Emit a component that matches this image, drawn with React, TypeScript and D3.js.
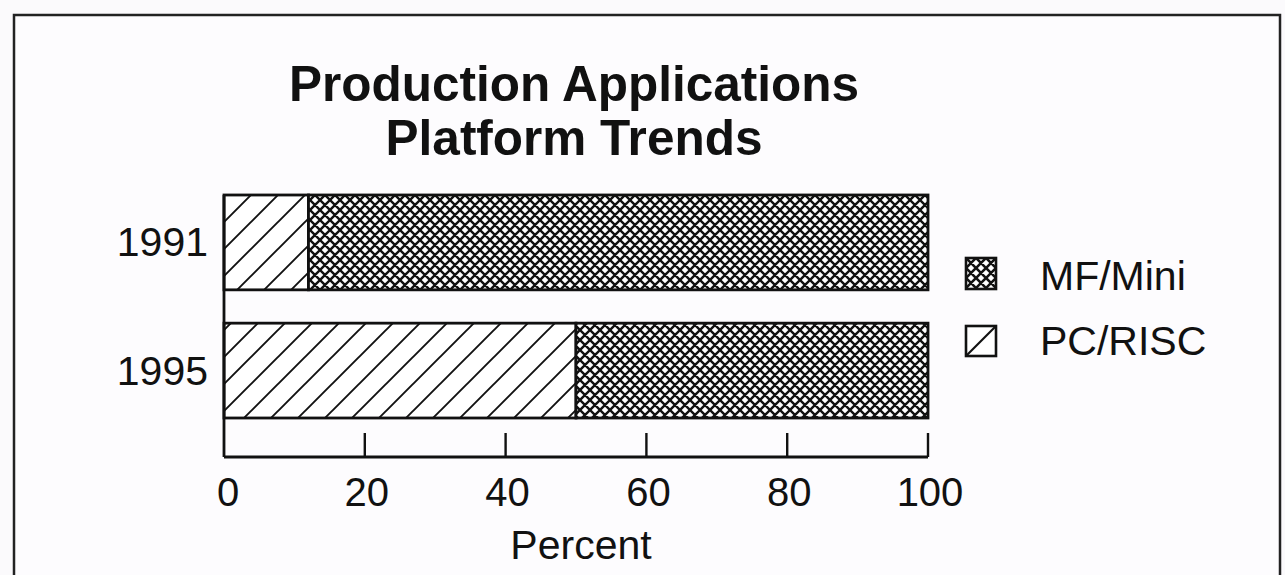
import React from "react";
import * as d3 from "d3";

const titleLines = ["Production Applications", "Platform Trends"];
const years = ["1991", "1995"];
const pcRisc = [12, 50];
const mfMini = [88, 50];
const seriesKeys = ["pc", "mf"];
const legendLabels = ["MF/Mini", "PC/RISC"];
const tickValues = [0, 20, 40, 60, 80, 100];
const axisLabel = "Percent";

const W = 1285;
const H = 575;
const FONT = "'Liberation Sans', Arial, Helvetica, sans-serif";

export default function App() {
  const x = d3.scaleLinear().domain([0, 100]).range([224, 928]);
  const y = d3.scaleBand<string>().domain(years).range([195, 418]).paddingInner(0.26).paddingOuter(0);

  const rows = years.map((yr, i) => ({ year: yr, pc: pcRisc[i], mf: mfMini[i] }));
  const stack = d3.stack<any>().keys(seriesKeys);
  const stacked = stack(rows);
  const fills: Record<string, string> = { pc: "url(#hatch)", mf: "url(#cross)" };

  const axisY = 457;
  const tickTop = 433;
  const crossPath = "M-1,1 L1,-1 M0,10 L10,0 M9,11 L11,9 M-1,9 L1,11 M0,0 L10,10 M9,-1 L11,1";

  return (
    <svg
      width={W}
      height={H}
      style={{ position: "fixed", left: 0, top: 0, display: "block" }}
      fontFamily={FONT}
    >
      <defs>
        <pattern id="cross" patternUnits="userSpaceOnUse" width={10} height={10}>
          <rect width={10} height={10} fill="#fff" />
          <path d={crossPath} stroke="#111" strokeWidth={2.4} />
        </pattern>
        <pattern id="crossLegend" patternUnits="userSpaceOnUse" width={10} height={10} x={966} y={258}>
          <rect width={10} height={10} fill="#fff" />
          <path d={crossPath} stroke="#111" strokeWidth={2.6} />
        </pattern>
        <pattern id="hatch" patternUnits="userSpaceOnUse" width={27} height={27} x={224} y={195}>
          <rect width={27} height={27} fill="#fff" />
          <path d="M-2,2 L2,-2 M0,27 L27,0 M25,29 L29,25" stroke="#111" strokeWidth={1.9} />
        </pattern>
      </defs>

      <rect x={0} y={0} width={W} height={H} fill="#fbfafc" />
      <rect x={14} y={15} width={1266} height={H} fill="#fdfcfe" stroke="#222" strokeWidth={2.5} />

      {titleLines.map((t, i) => (
        <text
          key={t}
          x={574}
          y={101 + i * 54}
          textAnchor="middle"
          fontSize={49.5}
          fontWeight="bold"
          fill="#111"
        >
          {t}
        </text>
      ))}

      {stacked.map((s) =>
        s.map((d: any, i: number) => (
          <rect
            key={s.key + i}
            x={x(d[0])}
            y={y(years[i])}
            width={x(d[1]) - x(d[0])}
            height={y.bandwidth()}
            fill={fills[s.key]}
            stroke="#111"
            strokeWidth={2.8}
          />
        ))
      )}

      <line x1={x(0)} x2={x(0)} y1={195} y2={axisY} stroke="#111" strokeWidth={2.8} />
      <line x1={x(0)} x2={x(100)} y1={axisY} y2={axisY} stroke="#111" strokeWidth={2.8} />
      {tickValues
        .filter((v) => v > 0)
        .map((v) => (
          <line key={v} x1={x(v)} x2={x(v)} y1={tickTop} y2={axisY} stroke="#111" strokeWidth={2.4} />
        ))}
      {tickValues.map((v) => (
        <text key={v} x={x(v) + (v === 0 ? 4 : 2)} y={506} textAnchor="middle" fontSize={40} fill="#111">
          {v}
        </text>
      ))}
      <text x={581} y={559} textAnchor="middle" fontSize={41} fill="#111">
        {axisLabel}
      </text>

      {years.map((yr) => (
        <text
          key={yr}
          x={208}
          y={(y(yr) as number) + y.bandwidth() / 2 + 14}
          textAnchor="end"
          fontSize={41}
          fill="#111"
        >
          {yr}
        </text>
      ))}

      {/* legend */}
      <rect x={966} y={258} width={30} height={31} fill="url(#crossLegend)" stroke="#111" strokeWidth={2.6} />
      <text x={1040} y={290} fontSize={41} fill="#111">
        {legendLabels[0]}
      </text>
      <rect x={966} y={326} width={30} height={30} fill="#fff" stroke="#111" strokeWidth={2.6} />
      <line x1={966} y1={356} x2={996} y2={326} stroke="#111" strokeWidth={2.2} />
      <text x={1040} y={355} fontSize={41} fill="#111">
        {legendLabels[1]}
      </text>
    </svg>
  );
}
